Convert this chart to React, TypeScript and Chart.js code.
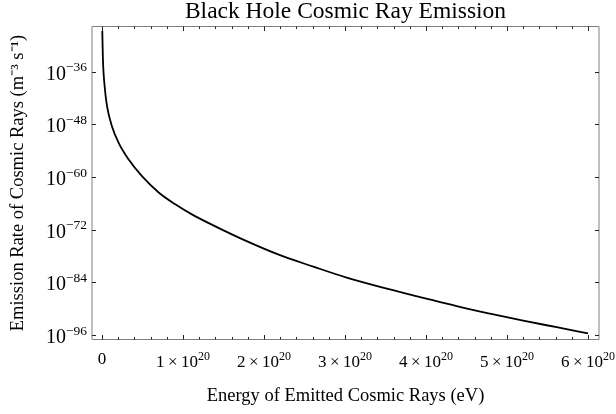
import React, { useEffect, useRef } from 'react';
import { Chart, registerables } from 'chart.js';

Chart.register(...registerables);

// Energy of emitted cosmic rays (eV)
const energyEv = [
  0.004e20, 0.012e20, 0.033e20, 0.062e20, 0.123e20, 0.206e20, 0.33e20, 0.494e20,
  0.7e20, 0.905e20, 1.11e20, 1.374e20, 1.786e20, 2.198e20, 2.609e20, 3.021e20,
  3.432e20, 3.967e20, 4.379e20, 4.79e20, 5.2e20, 5.614e20, 6.0e20,
];
// log10 of emission rate (m^-3 s^-1)
const log10Rate = [
  -26.7, -33.2, -39.3, -43.8, -48.4, -52.2, -56.0, -59.8,
  -63.5, -66.2, -68.5, -71.0, -74.6, -77.8, -80.4, -82.9,
  -85.0, -87.5, -89.4, -91.1, -92.7, -94.2, -95.6,
];

const xTickValues = [0, 1e20, 2e20, 3e20, 4e20, 5e20, 6e20];
const xTickBase = ['0', '1\u2009×\u200910', '2\u2009×\u200910', '3\u2009×\u200910', '4\u2009×\u200910', '5\u2009×\u200910', '6\u2009×\u200910'];
const xTickSup = ['', '20', '20', '20', '20', '20', '20'];
const xMinorStep = 0.2e20;
const yTickExponents = [-96, -84, -72, -60, -48, -36];
const yTickBase = ['10', '10', '10', '10', '10', '10'];
const yTickSup = ['\u221296', '\u221284', '\u221272', '\u221260', '\u221248', '\u221236'];

const X_MIN = -0.123e20;
const X_MAX = 6.136e20;
const Y_MIN_EXP = -97.0;
const Y_MAX_EXP = -25.7;

const FONT = "'Liberation Serif', 'Times New Roman', serif";

function drawSupLabel(
  ctx: CanvasRenderingContext2D, base: string, sup: string, x: number, y: number,
  align: 'center' | 'right', baseSize: number, supSize: number, raise: number,
) {
  ctx.font = `${baseSize}px ${FONT}`;
  const w1 = ctx.measureText(base).width;
  ctx.font = `${supSize}px ${FONT}`;
  const w2 = sup ? ctx.measureText(sup).width : 0;
  const w = w1 + w2;
  const sx = align === 'center' ? x - w / 2 : x - w;
  ctx.font = `${baseSize}px ${FONT}`;
  ctx.fillText(base, sx, y);
  if (sup) {
    ctx.font = `${supSize}px ${FONT}`;
    ctx.fillText(sup, sx + w1, y - raise);
  }
}

const framePlugin = {
  id: 'mmaFrame',
  afterDraw(chart: any) {
    const { ctx, chartArea } = chart;
    const { left, right, top, bottom } = chartArea;
    const xs = chart.scales.x;
    const ys = chart.scales.y;
    ctx.save();
    ctx.strokeStyle = '#808080';
    ctx.lineWidth = 1;
    ctx.beginPath();
    ctx.moveTo(left, top);
    ctx.lineTo(right, top);
    ctx.lineTo(right, bottom);
    ctx.lineTo(left, bottom);
    ctx.closePath();
    ctx.stroke();

    ctx.strokeStyle = '#222';
    ctx.beginPath();
    const last = xTickValues[xTickValues.length - 1];
    for (let v = 0; v <= last + 1; v += xMinorStep) {
      const isMajor = xTickValues.some((t) => Math.abs(t - v) < xMinorStep / 10);
      const len = isMajor ? 4.5 : 2.5;
      const px = Math.round(xs.getPixelForValue(v)) + 0.5;
      ctx.moveTo(px, bottom);
      ctx.lineTo(px, bottom - len);
      ctx.moveTo(px, top);
      ctx.lineTo(px, top + len);
    }
    for (const e of yTickExponents) {
      const py = Math.round(ys.getPixelForValue(Math.pow(10, e))) + 0.5;
      ctx.moveTo(left, py);
      ctx.lineTo(left + 4, py);
      ctx.moveTo(right, py);
      ctx.lineTo(right - 4, py);
    }
    ctx.stroke();

    // tick labels with true superscripts
    ctx.fillStyle = '#000';
    ctx.textBaseline = 'alphabetic';
    ctx.textAlign = 'left';
    xTickValues.forEach((v, i) => {
      const px = xs.getPixelForValue(v);
      const baseY = xTickSup[i] ? bottom + 27 : bottom + 24;
      drawSupLabel(ctx, xTickBase[i], xTickSup[i], px, baseY, 'center', 17, 12, 6.7);
    });
    yTickExponents.forEach((e, i) => {
      const py = ys.getPixelForValue(Math.pow(10, e));
      drawSupLabel(ctx, yTickBase[i], yTickSup[i], left - 5, py + 8, 'right', 20, 13.5, 8.3);
    });
    ctx.restore();
  },
};

export default function App() {
  const canvasRef = useRef<HTMLCanvasElement | null>(null);

  useEffect(() => {
    const canvas = canvasRef.current;
    if (!canvas) return;
    const points = energyEv.map((e, i) => ({ x: e, y: Math.pow(10, log10Rate[i]) }));
    const chart = new Chart(canvas, {
      type: 'line',
      data: {
        datasets: [
          {
            label: 'Emission rate',
            data: points,
            borderColor: '#000',
            borderWidth: 1.8,
            pointRadius: 0,
            fill: false,
            cubicInterpolationMode: 'monotone',
          },
        ],
      },
      options: {
        responsive: false,
        animation: false,
        layout: { padding: { left: 0, right: 17, top: 0, bottom: 0 }, autoPadding: false },
        plugins: {
          legend: { display: false },
          tooltip: { enabled: false },
          title: {
            display: true,
            text: 'Black Hole Cosmic Ray Emission',
            color: '#000',
            font: { family: FONT, size: 23.5, weight: 'normal', lineHeight: 1.0 },
            padding: { top: 0, bottom: 3 },
            fullSize: false,
          },
        },
        scales: {
          x: {
            type: 'linear',
            min: X_MIN,
            max: X_MAX,
            grid: { display: false, drawTicks: false },
            border: { display: false },
            afterBuildTicks: (scale: any) => {
              scale.ticks = xTickValues.map((v) => ({ value: v }));
            },
            afterFit: (scale: any) => {
              scale.height = 74.5;
            },
            ticks: { display: false },
            title: {
              display: true,
              text: 'Energy of Emitted Cosmic Rays (eV)',
              color: '#000',
              font: { family: FONT, size: 18.5 },
              padding: { top: 0, bottom: 7 },
            },
          },
          y: {
            type: 'logarithmic',
            min: Math.pow(10, Y_MIN_EXP),
            max: Math.pow(10, Y_MAX_EXP),
            grid: { display: false, drawTicks: false },
            border: { display: false },
            afterBuildTicks: (scale: any) => {
              scale.ticks = yTickExponents.map((e) => ({ value: Math.pow(10, e) }));
            },
            afterFit: (scale: any) => {
              scale.width = 92;
            },
            ticks: { display: false },
            title: {
              display: true,
              text: 'Emission Rate of Cosmic Rays (m⁻³ s⁻¹)',
              color: '#000',
              font: { family: FONT, size: 18.5 },
              padding: { top: 7.5, bottom: 0 },
            },
          },
        },
      },
      plugins: [framePlugin],
    } as any);
    return () => chart.destroy();
  }, []);

  return (
    <div style={{ position: 'fixed', left: 0, top: 0, width: 616, height: 414, background: '#fff' }}>
      <canvas ref={canvasRef} width={616} height={414} style={{ display: 'block' }} />
    </div>
  );
}
